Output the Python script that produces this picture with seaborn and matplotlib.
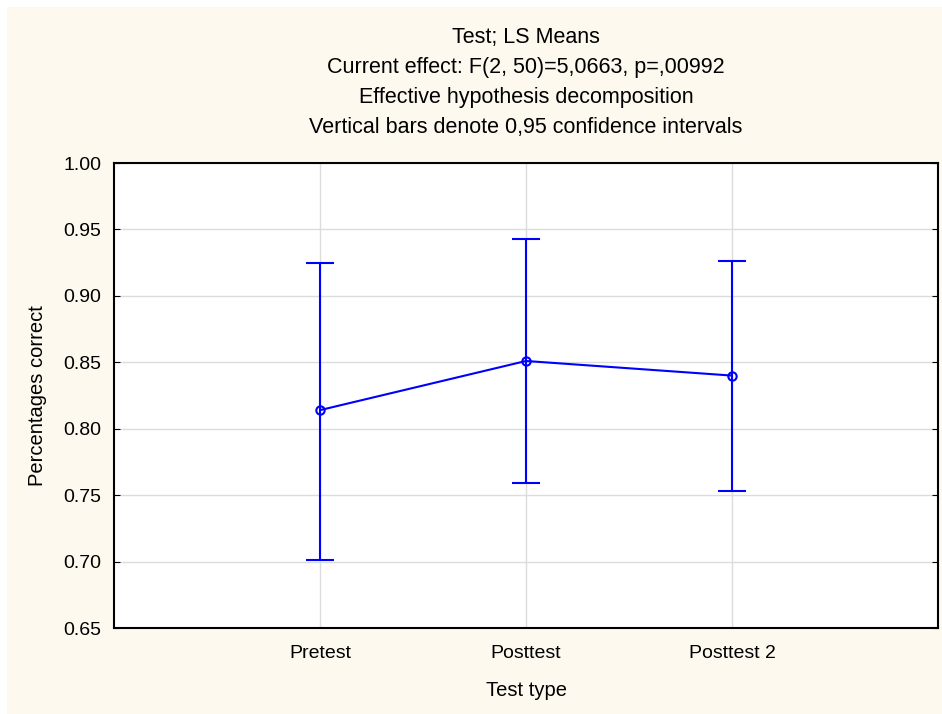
import matplotlib
matplotlib.use('Agg')
import matplotlib.pyplot as plt
import pandas as pd
import seaborn as sns

# Data (LS means and 0.95 confidence limits)
tests = ['Pretest', 'Posttest', 'Posttest 2']
means = [0.814, 0.851, 0.840]
lower = [0.701, 0.759, 0.753]
upper = [0.925, 0.943, 0.926]
y_ticks = [0.65, 0.70, 0.75, 0.80, 0.85, 0.90, 0.95, 1.00]

df = pd.DataFrame({'test': tests, 'mean': means, 'lower': lower, 'upper': upper})
df['pos'] = range(len(df))

sns.set_style('white')
plt.rcParams['font.family'] = ['Liberation Sans', 'DejaVu Sans']
plt.rcParams['text.color'] = 'black'
plt.rcParams['axes.labelcolor'] = 'black'

blue = '#0000ff'
fig = plt.figure(figsize=(9.42, 7.14), dpi=100)
fig.patch.set_facecolor('white')
# cream panel behind the whole chart
fig.patches.append(plt.Rectangle((7 / 942, 0), 1, 1 - 7 / 714, transform=fig.transFigure,
                                 facecolor='#fdf9ef', edgecolor='none', zorder=-5))
ax = fig.add_axes([0.121, 0.1204, 0.8748, 0.6513])
ax.set_facecolor('white')

# confidence intervals
ax.errorbar(df['pos'], df['mean'],
            yerr=[df['mean'] - df['lower'], df['upper'] - df['mean']],
            fmt='none', ecolor=blue, elinewidth=1.5, capsize=10, capthick=1.5, zorder=3)
# mean line with open circle markers
sns.lineplot(data=df, x='pos', y='mean', ax=ax, color=blue, linewidth=1.5,
             marker='o', markersize=6, markerfacecolor='none', markeredgecolor=blue,
             markeredgewidth=1.5, zorder=4)

ax.set_xlim(-1, 3)
ax.set_ylim(0.65, 1.00)
ax.set_xticks(df['pos'])
ax.set_xticklabels(tests)
ax.set_yticks(y_ticks)
ax.set_yticklabels([f'{t:.2f}' for t in y_ticks])
ax.grid(True, color='#dcdcdc', linewidth=1)
ax.set_axisbelow(True)
for s in ax.spines.values():
    s.set_color('black')
    s.set_linewidth(1.5)
ax.tick_params(axis='both', labelsize=14, colors='black', length=4, direction='in',
               left=True, right=True, bottom=False, pad=9)
ax.tick_params(axis='x', pad=12)
ax.set_xlabel('Test type', fontsize=14.5, labelpad=14)
ax.set_ylabel('Percentages correct', fontsize=14.5, labelpad=12)

title_lines = ['Test; LS Means',
               'Current effect: F(2, 50)=5,0663, p=,00992',
               'Effective hypothesis decomposition',
               'Vertical bars denote 0,95 confidence intervals']
for i, line in enumerate(title_lines):
    fig.text(0.5 * (0.121 + 0.9958), 1 - (38 + i * 29.7) / 714, line,
             ha='center', va='center', fontsize=15.5)

fig.savefig('out.png', dpi=100, facecolor=fig.get_facecolor())
